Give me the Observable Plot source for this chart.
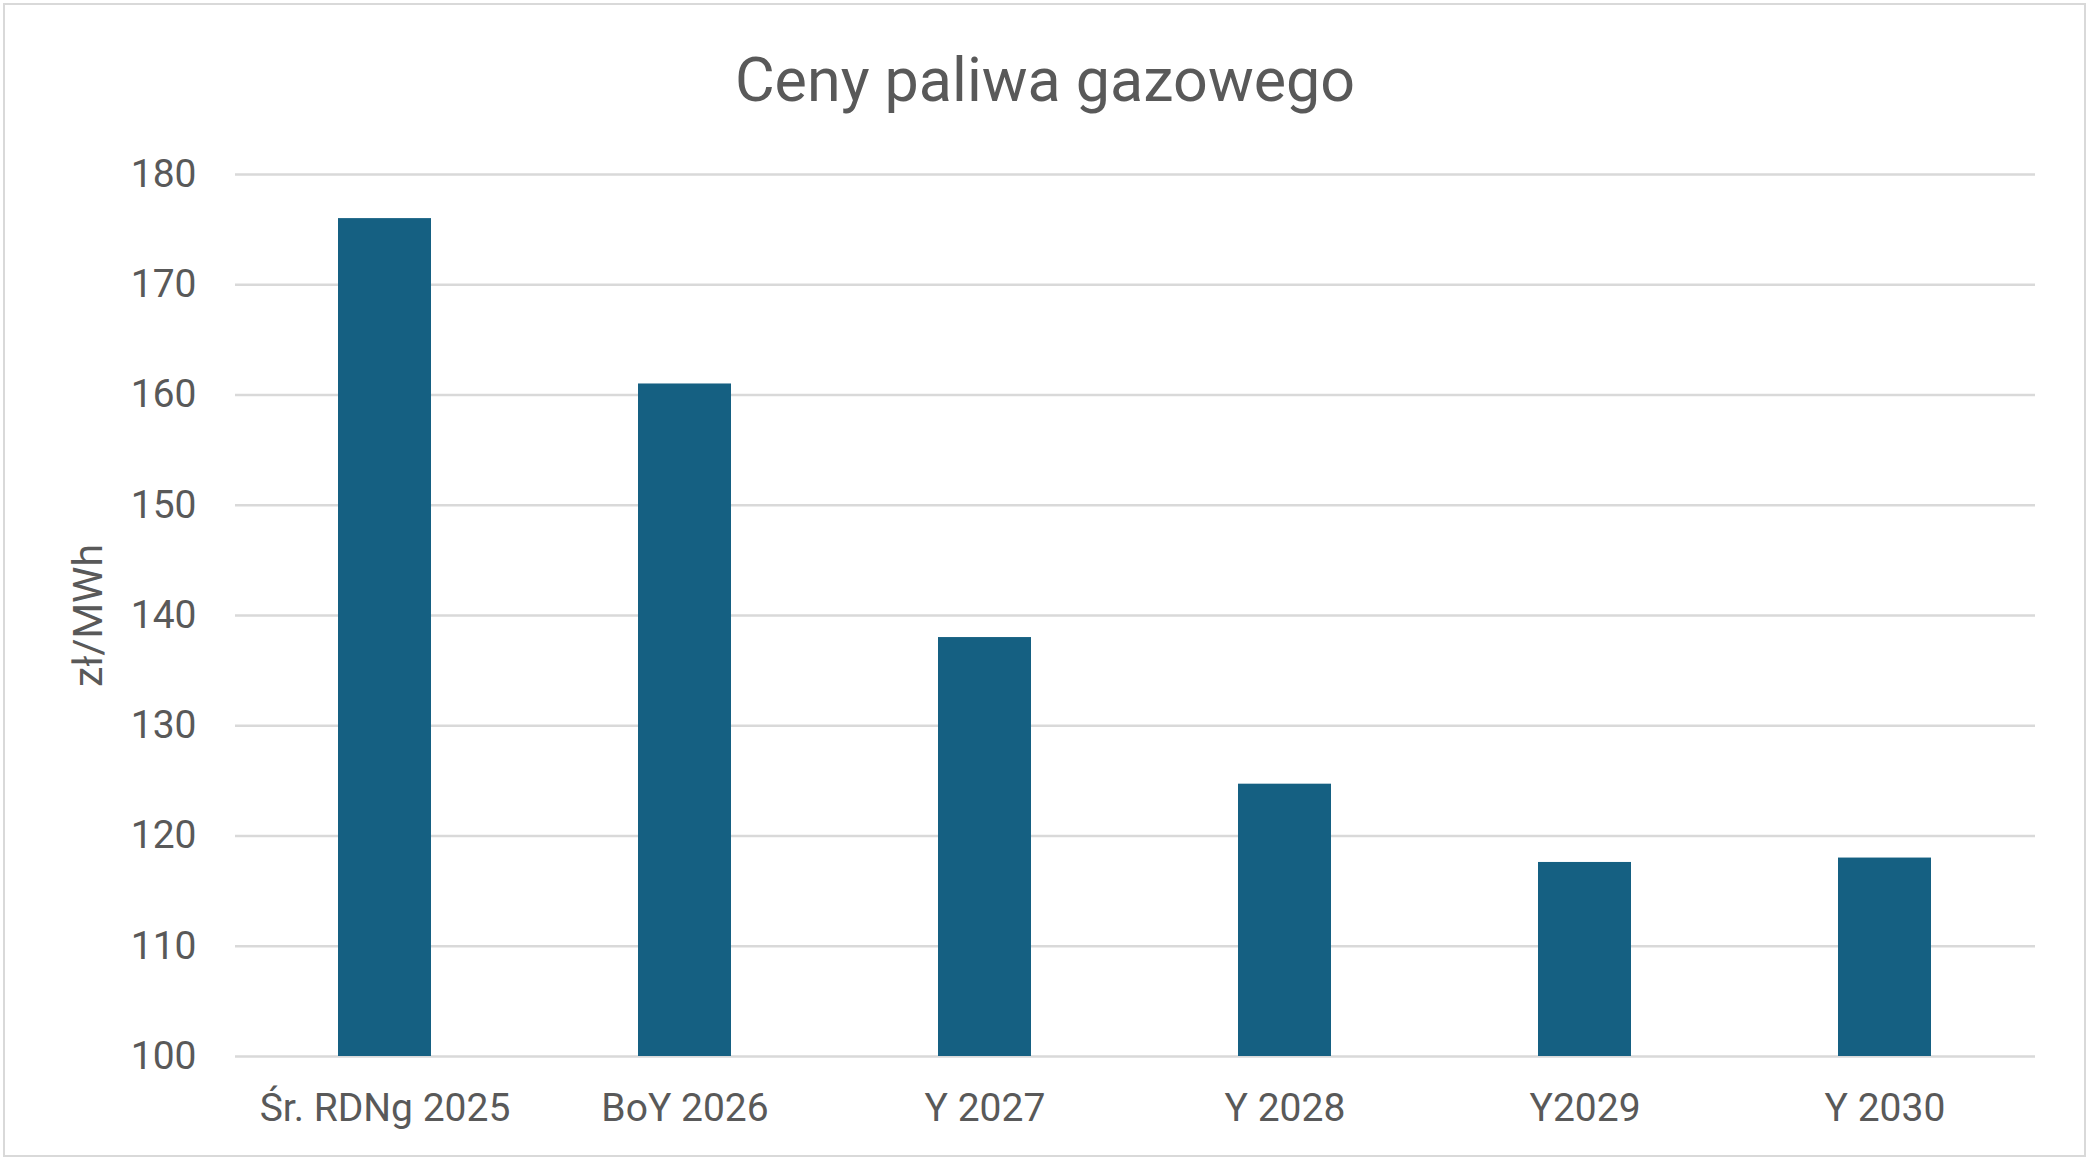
<!DOCTYPE html>
<html>
<head>
<meta charset="utf-8">
<script src="https://cdn.jsdelivr.net/npm/d3@7"></script>
<script src="https://cdn.jsdelivr.net/npm/@observablehq/plot@0.6"></script>
<style>
  html, body { margin: 0; padding: 0; background: #ffffff; }
  #frame {
    position: absolute; left: 3px; top: 3px; width: 2083px; height: 1154px;
    box-sizing: border-box; border: 2.5px solid #d9d9d9; background: #fff;
  }
  #title {
    position: absolute; left: 0; top: 43px; width: 2090px; text-align: center;
    font-family: Roboto, "Open Sans", sans-serif; font-size: 61px; line-height: 74px;
    color: #595959;
  }
  #chart { position: absolute; left: 0; top: 130px; }
</style>
</head>
<body>
<div id="frame"></div>
<div id="title">Ceny paliwa gazowego</div>
<div id="chart"></div>
<script>
const categories = ["Śr. RDNg 2025", "BoY 2026", "Y 2027", "Y 2028", "Y2029", "Y 2030"];
const prices = [176.0, 161.0, 138.0, 124.7, 117.6, 118.0];
const yTicks = [100, 110, 120, 130, 140, 150, 160, 170, 180];
const yLabel = "zł/MWh";
const yBase = 100;

const data = categories.map((c, i) => ({cat: c, value: prices[i]}));

const chart = Plot.plot({
  width: 2090,
  height: 1020,
  marginTop: 44,
  marginBottom: 94,
  marginLeft: 235,
  marginRight: 55,
  style: {
    fontFamily: "Roboto, 'Open Sans', sans-serif",
    fontSize: "39px",
    color: "#595959",
    background: "transparent"
  },
  x: {domain: categories, paddingInner: 0.69, paddingOuter: 0.345, label: null},
  y: {domain: [yTicks[0], yTicks[yTicks.length - 1]], label: null},
  marks: [
    Plot.ruleY(yTicks, {stroke: "#d9d9d9", strokeWidth: 2.5}),
    Plot.barY(data, {x: "cat", y1: () => yBase, y2: "value", fill: "#156082"}),
    Plot.axisX({tickSize: 0, tickPadding: 37, label: null, fill: "#595959"}),
    Plot.axisY({ticks: yTicks, tickSize: 0, tickPadding: 39, label: null, fill: "#595959"}),
    Plot.text([yLabel], {
      frameAnchor: "left", textAnchor: "middle", dx: -147, rotate: -90, text: d => d,
      fill: "#595959", fontSize: 41
    })
  ]
});
document.getElementById("chart").appendChild(chart);
</script>
</body>
</html>
